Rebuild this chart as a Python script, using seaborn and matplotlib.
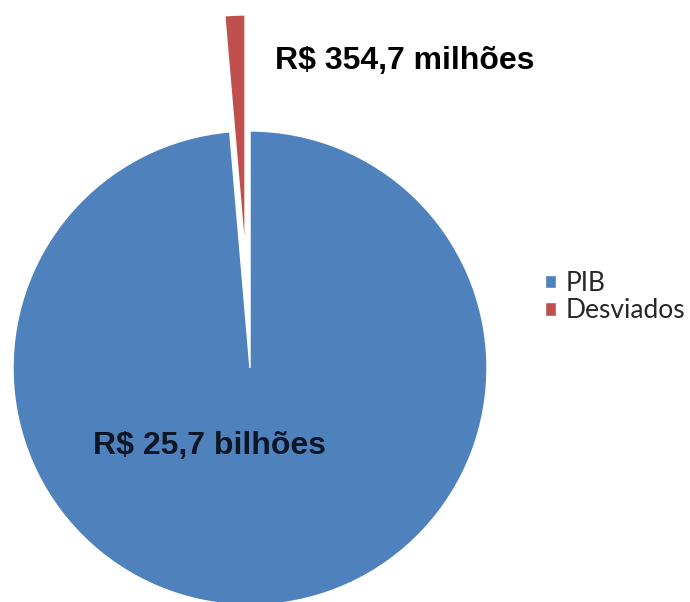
import matplotlib
matplotlib.use("Agg")
import matplotlib.pyplot as plt
import seaborn as sns

# Values in millions of reais
categories = ["PIB", "Desviados"]
values_millions = [25700.0, 354.7]
value_labels = ["R$ 25,7 bilhões", "R$ 354,7 milhões"]
colors = ["#4F81BD", "#C0504D"]

sns.set_theme(style="white")
sns.set_palette(colors)
plt.rcParams["font.family"] = ["Liberation Sans", "DejaVu Sans"]

fig = plt.figure(figsize=(6.9, 6.02), dpi=100)
ax = fig.add_axes([0, 0, 1, 1])

wedges, _ = ax.pie(
    values_millions,
    colors=sns.color_palette(),
    startangle=90,
    counterclock=False,
    explode=[0.0, 0.49],
    radius=1.0,
    center=(0, 0),
    wedgeprops=dict(edgecolor="white", linewidth=1.0),
)

# Frame the pie so its radius spans ~237 px
ax.set_xlim(-250 / 237, 440 / 237)
ax.set_ylim(-234 / 237, 368 / 237)
ax.set_aspect("auto")
ax.axis("off")

ax.text(0.654, 1.295, value_labels[1], ha="center", va="center",
        fontsize=23, fontweight="bold", color="black")
ax.text(-0.169, -0.329, value_labels[0], ha="center", va="center",
        fontsize=23, fontweight="bold", color="#0d1626")

fig.legend(
    wedges, categories,
    loc="center left", bbox_to_anchor=(545 / 690, 1 - 297 / 602),
    frameon=False, handlelength=0.4, handleheight=0.4,
    handletextpad=0.4, labelspacing=0.1, borderpad=0, borderaxespad=0,
    prop={"family": ["Lato", "DejaVu Sans"], "size": 19},
)

fig.savefig("out.png", dpi=100, facecolor="white")
